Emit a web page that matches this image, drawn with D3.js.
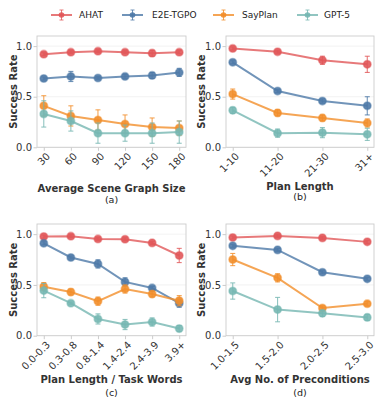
<!DOCTYPE html>
<html><head><meta charset="utf-8">
<script src="https://cdn.jsdelivr.net/npm/d3@7"></script>
<style>body{margin:0;background:#fff}svg{display:block}text{font-family:"DejaVu Sans",sans-serif}</style>
</head><body><svg id="c" width="381" height="404"></svg>
<script>
const seriesNames = ["AHAT","E2E-TGPO","SayPlan","GPT-5"];
const colors = ["#e15759","#4e79a7","#f28e2b","#76b7b2"];
const yTicks = [0.0, 0.5, 1.0];

const catsA = ["30","60","90","120","150","180"];
const valsA = [[0.92,0.94,0.95,0.94,0.93,0.94],[0.68,0.70,0.685,0.70,0.71,0.74],[0.41,0.31,0.27,0.23,0.20,0.19],[0.33,0.26,0.14,0.14,0.14,0.15]];
const errA  = [[0.015,0.015,0.015,0.015,0.03,0.015],[0.015,0.05,0.015,0.02,0.03,0.04],[0.10,0.10,0.10,0.09,0.09,0.07],[0.13,0.10,0.10,0.08,0.10,0.11]];

const catsB = ["1-10","11-20","21-30","31+"];
const valsB = [[0.977,0.944,0.86,0.82],[0.84,0.556,0.457,0.41],[0.526,0.34,0.29,0.24],[0.365,0.14,0.145,0.128]];
const errB  = [[0.015,0.015,0.04,0.08],[0.015,0.015,0.02,0.09],[0.05,0.03,0.03,0.04],[0.03,0.04,0.05,0.06]];

const catsC = ["0.0-0.3","0.3-0.8","0.8-1.4","1.4-2.4","2.4-3.9","3.9+"];
const valsC = [[0.976,0.98,0.953,0.95,0.914,0.79],[0.91,0.77,0.707,0.53,0.47,0.32],[0.483,0.43,0.34,0.46,0.41,0.345],[0.444,0.32,0.165,0.11,0.135,0.07]];
const errC  = [[0.015,0.015,0.015,0.015,0.015,0.07],[0.015,0.015,0.04,0.04,0.015,0.04],[0.04,0.03,0.04,0.04,0.03,0.05],[0.07,0.01,0.05,0.05,0.04,0.03]];

const catsD = ["1.0-1.5","1.5-2.0","2.0-2.5","2.5-3.0"];
const valsD = [[0.967,0.983,0.963,0.924],[0.885,0.845,0.625,0.56],[0.75,0.57,0.273,0.315],[0.44,0.257,0.22,0.18]];
const errD  = [[0.015,0.015,0.015,0.015],[0.015,0.015,0.015,0.015],[0.06,0.04,0.02,0.02],[0.08,0.12,0.03,0.03]];

const xLabels = ["Average Scene Graph Size","Plan Length","Plan Length / Task Words","Avg No. of Preconditions"];
const subLabels = ["(a)","(b)","(c)","(d)"];

const panels = [
  {cats:catsA, vals:valsA, err:errA, x0:37, x1:186, y0:36, y1:147.3, xl:192, sl:202.5, yl:17},
  {cats:catsB, vals:valsB, err:errB, x0:226, x1:374, y0:36, y1:147.3, xl:189.5, sl:200, yl:205},
  {cats:catsC, vals:valsC, err:errC, x0:37, x1:186, y0:224, y1:335.7, xl:383, sl:395.5, yl:17},
  {cats:catsD, vals:valsD, err:errD, x0:226, x1:374, y0:224, y1:335.7, xl:382.5, sl:395.5, yl:205}
];

const svg = d3.select("#c");
const spine = "#cccccc";

panels.forEach((p, pi) => {
  const n = p.cats.length;
  const x = d3.scaleLinear().domain([-0.05*(n-1), (n-1)*1.05]).range([p.x0, p.x1]);
  const y = d3.scaleLinear().domain([0, 1.1]).range([p.y1, p.y0]);
  const g = svg.append("g");
  g.selectAll(".grid").data(yTicks).enter().append("line")
    .attr("x1", p.x0).attr("x2", p.x1).attr("y1", d=>y(d)).attr("y2", d=>y(d))
    .attr("stroke", "#efefef").attr("stroke-width", 0.8);
  g.append("rect").attr("x", p.x0).attr("y", p.y0).attr("width", p.x1-p.x0).attr("height", p.y1-p.y0)
    .attr("fill", "none").attr("stroke", spine).attr("stroke-width", 0.9);
  const ya = d3.axisLeft(y).tickValues(yTicks).tickFormat(d3.format(".1f")).tickSize(3.5).tickPadding(1.5);
  const yg = g.append("g").attr("transform", `translate(${p.x0},0)`).call(ya);
  yg.select(".domain").remove();
  yg.selectAll("line").attr("stroke", spine);
  yg.selectAll("text").attr("font-size", 10).attr("fill", "#333").attr("font-family", '"DejaVu Sans"');
  const xa = d3.axisBottom(x).tickValues(d3.range(n)).tickFormat(i => p.cats[i]).tickSize(3.5);
  const xg = g.append("g").attr("transform", `translate(0,${p.y1})`).call(xa);
  xg.select(".domain").remove();
  xg.selectAll("line").attr("stroke", spine);
  xg.selectAll("text").attr("font-size", 10).attr("fill", "#333").attr("font-family", '"DejaVu Sans"')
    .attr("text-anchor", "end").attr("dy", null).attr("y", null)
    .attr("transform", "translate(6.5,9.7) rotate(-45)");
  g.append("text").attr("x", (p.x0+p.x1)/2).attr("y", p.xl).attr("text-anchor", "middle")
    .attr("font-size", 10).attr("font-weight", "bold").attr("fill", "#333").text(xLabels[pi]);
  g.append("text").attr("x", (p.x0+p.x1)/2).attr("y", p.sl).attr("text-anchor", "middle")
    .attr("font-size", 9.5).attr("fill", "#222").text(subLabels[pi]);
  g.append("text").attr("transform", `translate(${p.yl},${(p.y0+p.y1)/2}) rotate(-90)`).attr("text-anchor", "middle")
    .attr("font-size", 10).attr("font-weight", "bold").attr("fill", "#333").text("Success Rate");
  const line = d3.line().x((d,i)=>x(i)).y(d=>y(d));
  p.vals.forEach((vals, si) => {
    const c = colors[si];
    const sg = g.append("g");
    sg.append("path").attr("d", line(vals)).attr("fill", "none").attr("stroke", c)
      .attr("stroke-width", 2).attr("stroke-opacity", 0.8);
    vals.forEach((v, i) => {
      const e = p.err[si][i];
      const cx = x(i);
      sg.append("line").attr("x1", cx).attr("x2", cx).attr("y1", y(v-e)).attr("y2", y(v+e))
        .attr("stroke", c).attr("stroke-width", 1.1).attr("stroke-opacity", 0.8);
      [v-e, v+e].forEach(t => sg.append("line").attr("x1", cx-2.5).attr("x2", cx+2.5).attr("y1", y(t)).attr("y2", y(t))
        .attr("stroke", c).attr("stroke-width", 1.1).attr("stroke-opacity", 0.8));
    });
    sg.selectAll("circle").data(vals).enter().append("circle")
      .attr("cx", (d,i)=>x(i)).attr("cy", d=>y(d)).attr("r", 3.8)
      .attr("fill", c).attr("fill-opacity", 0.9).attr("stroke", c).attr("stroke-opacity", 0.45).attr("stroke-width", 1.6);
  });
});

const legX = [51, 122, 213, 297];
const legTX = [79, 152, 242, 324];
const ly = 15;
seriesNames.forEach((s, i) => {
  const c = colors[i];
  const lg = svg.append("g");
  lg.append("line").attr("x1", legX[i]).attr("x2", legX[i]+21).attr("y1", ly).attr("y2", ly)
    .attr("stroke", c).attr("stroke-width", 2).attr("stroke-opacity", 0.8);
  const cx = legX[i]+10.5;
  lg.append("line").attr("x1", cx).attr("x2", cx).attr("y1", ly-5).attr("y2", ly+5).attr("stroke", c).attr("stroke-width", 1).attr("stroke-opacity", 0.8);
  [ly-5, ly+5].forEach(t => lg.append("line").attr("x1", cx-2).attr("x2", cx+2).attr("y1", t).attr("y2", t).attr("stroke", c).attr("stroke-width", 1).attr("stroke-opacity", 0.8));
  lg.append("circle").attr("cx", cx).attr("cy", ly).attr("r", 2.8).attr("fill", c).attr("fill-opacity", 0.9);
  lg.append("text").attr("x", legTX[i]).attr("y", ly+3.2).attr("font-size", 9).attr("fill", "#222").text(s);
});
</script></body></html>
